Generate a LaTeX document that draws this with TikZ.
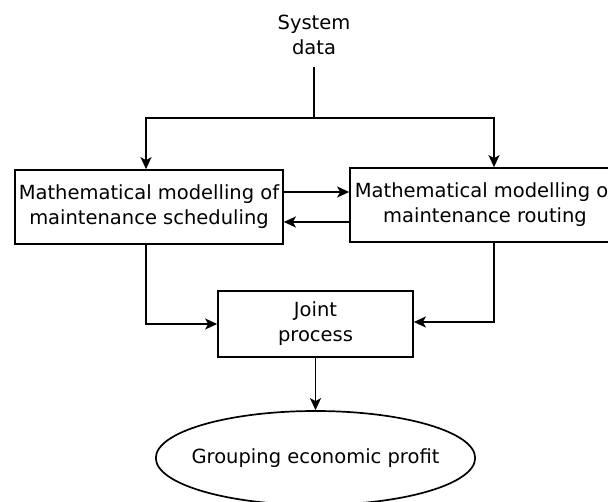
\documentclass[tikz,border=0pt]{standalone}
\usepackage{fontspec}
\setmainfont{DejaVu Sans}
\usepackage{tikz}
\usetikzlibrary{positioning,arrows.meta,shapes}

\tikzset{
  boite/.style={draw, rectangle, align=center, inner sep=0pt},
  fleche/.style={-{Stealth[length=12pt,width=11pt,inset=3pt]}},
}

\begin{document}
\begin{tikzpicture}[x=1pt,y=1pt,line width=1.7pt,
    every node/.style={font=\fontsize{19.5}{25}\selectfont}]
		% cadre
		\useasboundingbox (0,0) rectangle (608,-501);
		\clip (0,0) rectangle (608,-501);
		% donnees
		\node[align=center, anchor=south, inner xsep=6pt, inner ysep=11pt] (donnees) at (314,-67) {System\\data};
		\coordinate (split) at (314,-118);
		% les deux modeles
		\node[boite, minimum width=268, minimum height=74] (ordo) at (149,-207) {Mathematical modelling of\\maintenance scheduling};
		\node[boite, minimum width=270, minimum height=74] (tournee) at (485,-205) {Mathematical modelling of\\maintenance routing};
		% processus commun
		\node[boite, minimum width=195, minimum height=66] (joint) at (315.5,-324) {Joint\\process};
		% profit
		\node[draw, ellipse, inner xsep=-11pt, inner ysep=0pt, minimum height=94] (profit) at (315.5,-458) {Grouping economic profit};
		% traits
		\draw (donnees.south) -- (split);
		\draw[fleche] (split) -| ([xshift=-3pt]ordo.north);
		\draw[fleche] (split) -| ([xshift=9pt]tournee.north);
		\draw[fleche] ([yshift=15pt]ordo.east) -- ([yshift=15pt]ordo.east -| tournee.west);
		\draw[fleche] ([yshift=-17pt]tournee.west) -- ([yshift=-17pt]tournee.west -| ordo.east);
		\draw[fleche] ([xshift=-3pt]ordo.south) |- (joint.west);
		\draw[fleche] ([xshift=9pt]tournee.south) |- ([yshift=2pt]joint.east);
		\draw[fleche] (joint) -- (profit);
	\end{tikzpicture}
\end{document}
